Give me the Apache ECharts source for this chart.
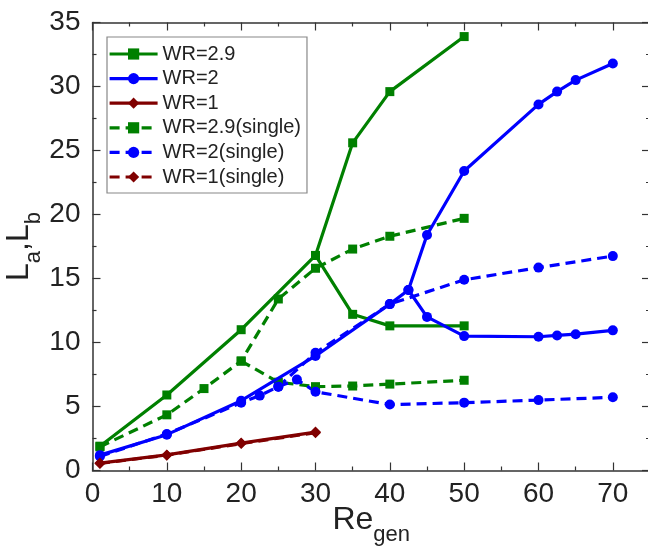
<!DOCTYPE html>
<html>
<head>
<meta charset="utf-8">
<script src="https://cdn.jsdelivr.net/npm/echarts@6/dist/echarts.min.js"></script>
<style>
  html, body { margin: 0; padding: 0; background: #fff; }
  #chart { width: 648px; height: 550px; }
</style>
</head>
<body>
<div id="chart"></div>
<script>
// Axis ticks
const xTicks = [0, 10, 20, 30, 40, 50, 60, 70];
const yTicks = [0, 5, 10, 15, 20, 25, 30, 35];

// WR = 2.9, coupled case: rising branch and falling branch from Re = 30
const wr29Up = [[1, 1.9], [10, 5.9], [20, 11.0], [30, 16.8], [35, 25.6], [40, 29.6], [50, 33.9]];
const wr29Down = [[30, 16.8], [35, 12.2], [40, 11.3], [50, 11.3]];

// WR = 2, coupled case: branches split at Re = 42.5
const wr2Up = [[1, 1.2], [10, 2.8], [20, 5.45], [30, 8.95], [40, 13.0], [42.5, 14.1], [45, 18.4], [50, 23.4], [60, 28.6], [62.5, 29.6], [65, 30.5], [70, 31.8]];
const wr2Down = [[42.5, 14.1], [45, 12.0], [50, 10.5], [60, 10.45], [62.5, 10.55], [65, 10.65], [70, 10.95]];

// WR = 1, coupled case
const wr1 = [[1, 0.58], [10, 1.22], [20, 2.14], [30, 3.0]];

// WR = 2.9, single case: branches split at Re = 20
const wr29sUp = [[1, 1.85], [10, 4.35], [15, 6.4], [20, 8.55], [25, 13.4], [30, 15.8], [35, 17.3], [40, 18.3], [50, 19.7]];
const wr29sDown = [[20, 8.55], [25, 6.9], [30, 6.55], [35, 6.6], [40, 6.75], [50, 7.05]];

// WR = 2, single case: branches split at Re = 27.5
const wr2sLow = [[1, 1.1], [10, 2.85], [20, 5.3], [22.5, 5.85], [25, 6.55], [27.5, 7.1], [30, 6.15], [40, 5.15], [50, 5.3], [60, 5.5], [70, 5.72]];
const wr2sHigh = [[25, 6.55], [30, 9.2], [40, 13.0], [50, 14.9], [60, 15.85], [70, 16.75]];

// WR = 1, single case
const wr1s = [[1, 0.55], [10, 1.2], [20, 2.1], [30, 2.95]];

const GREEN = '#008000';
const BLUE = '#0000ff';
const RED = '#800000';
const DASH = [10, 6];
const FONT = 'Liberation Sans, Arial, sans-serif';

function mkSeries(name, data, color, symbol, size, dashed) {
  return {
    name: name,
    type: 'line',
    data: data,
    symbol: symbol,
    symbolSize: size,
    showAllSymbol: true,
    color: color,
    itemStyle: { color: color },
    lineStyle: { color: color, width: 3.2, type: dashed ? DASH : 'solid' },
    emphasis: { disabled: true },
    animation: false,
    z: dashed ? 2 : 3
  };
}

const series = [
  mkSeries('WR=2.9', wr29Up, GREEN, 'rect', 9, false),
  mkSeries('WR=2.9', wr29Down, GREEN, 'rect', 9, false),
  mkSeries('WR=2', wr2Up, BLUE, 'circle', 10, false),
  mkSeries('WR=2', wr2Down, BLUE, 'circle', 10, false),
  mkSeries('WR=1', wr1, RED, 'diamond', 11, false),
  mkSeries('WR=2.9(single)', wr29sUp, GREEN, 'rect', 9, true),
  mkSeries('WR=2.9(single)', wr29sDown, GREEN, 'rect', 9, true),
  mkSeries('WR=2(single)', wr2sLow, BLUE, 'circle', 10, true),
  mkSeries('WR=2(single)', wr2sHigh, BLUE, 'circle', 10, true),
  mkSeries('WR=1(single)', wr1s, RED, 'diamond', 11, true)
];

function frameLine() {
  return { show: true, onZero: false, lineStyle: { color: '#333', width: 1.5 } };
}
function majorTick() {
  return { show: true, inside: true, length: 8, lineStyle: { color: '#333', width: 1.2 } };
}
function minorTick() {
  return { show: true, splitNumber: 2, length: 4, lineStyle: { color: '#333', width: 1.2 } };
}

function baseX(pos, labels) {
  return {
    type: 'value', position: pos, min: 0, max: 75, interval: 10,
    axisLine: frameLine(), axisTick: majorTick(), minorTick: minorTick(),
    splitLine: { show: false }, minorSplitLine: { show: false },
    axisLabel: labels ? {
      show: true, fontFamily: FONT, fontSize: 28, color: '#222', margin: 10,
      formatter: v => (xTicks.indexOf(v) >= 0 ? String(v) : '')
    } : { show: false }
  };
}
function baseY(pos, labels) {
  return {
    type: 'value', position: pos, min: 0, max: 35, interval: 5,
    axisLine: frameLine(), axisTick: majorTick(), minorTick: minorTick(),
    splitLine: { show: false }, minorSplitLine: { show: false },
    axisLabel: labels ? {
      show: true, fontFamily: FONT, fontSize: 28, color: '#222', margin: 12,
      formatter: v => (yTicks.indexOf(v) >= 0 ? String(v) : '')
    } : { show: false }
  };
}

const xBottom = baseX('bottom', true);
xBottom.name = '{m|Re}{s|gen}';
xBottom.nameLocation = 'middle';
xBottom.nameGap = 34;
xBottom.nameMoveOverlap = false;
xBottom.nameTextStyle = {
  rich: {
    m: { fontFamily: FONT, fontSize: 32, color: '#222', padding: [0, 0, 9, 0] },
    s: { fontFamily: FONT, fontSize: 22, color: '#222', verticalAlign: 'bottom' }
  }
};
const xTop = baseX('top', false);

const yLeft = baseY('left', true);
yLeft.name = '{m|L}{s|a}{m|,L}{s|b}';
yLeft.nameLocation = 'middle';
yLeft.nameGap = 48;
yLeft.nameMoveOverlap = false;
yLeft.nameRotate = 90;
yLeft.nameTextStyle = {
  rich: {
    m: { fontFamily: FONT, fontSize: 32, color: '#222', padding: [0, 0, 9, 0] },
    s: { fontFamily: FONT, fontSize: 22, color: '#222', verticalAlign: 'bottom' }
  }
};
const yRight = baseY('right', false);

const chart = echarts.init(document.getElementById('chart'), null, { renderer: 'canvas' });
chart.setOption({
  animation: false,
  backgroundColor: '#fff',
  grid: { left: 92.5, top: 22.5, right: -2, bottom: 79.5, containLabel: false, outerBoundsMode: 'none' },
  xAxis: [xBottom, xTop],
  yAxis: [yLeft, yRight],
  legend: {
    show: true,
    orient: 'vertical',
    left: 107,
    top: 37,
    data: ['WR=2.9', 'WR=2', 'WR=1', 'WR=2.9(single)', 'WR=2(single)', 'WR=1(single)'],
    backgroundColor: '#fff',
    borderColor: '#888',
    borderWidth: 1.2,
    padding: [7, 6, 6, 1],
    itemWidth: 48,
    itemHeight: 14,
    itemGap: 4.6,
    selectedMode: false,
    lineStyle: { width: 3.2 },
    textStyle: { fontFamily: FONT, fontSize: 20, color: '#222', lineHeight: 20 }
  },
  series: series
});
</script>
</body>
</html>
